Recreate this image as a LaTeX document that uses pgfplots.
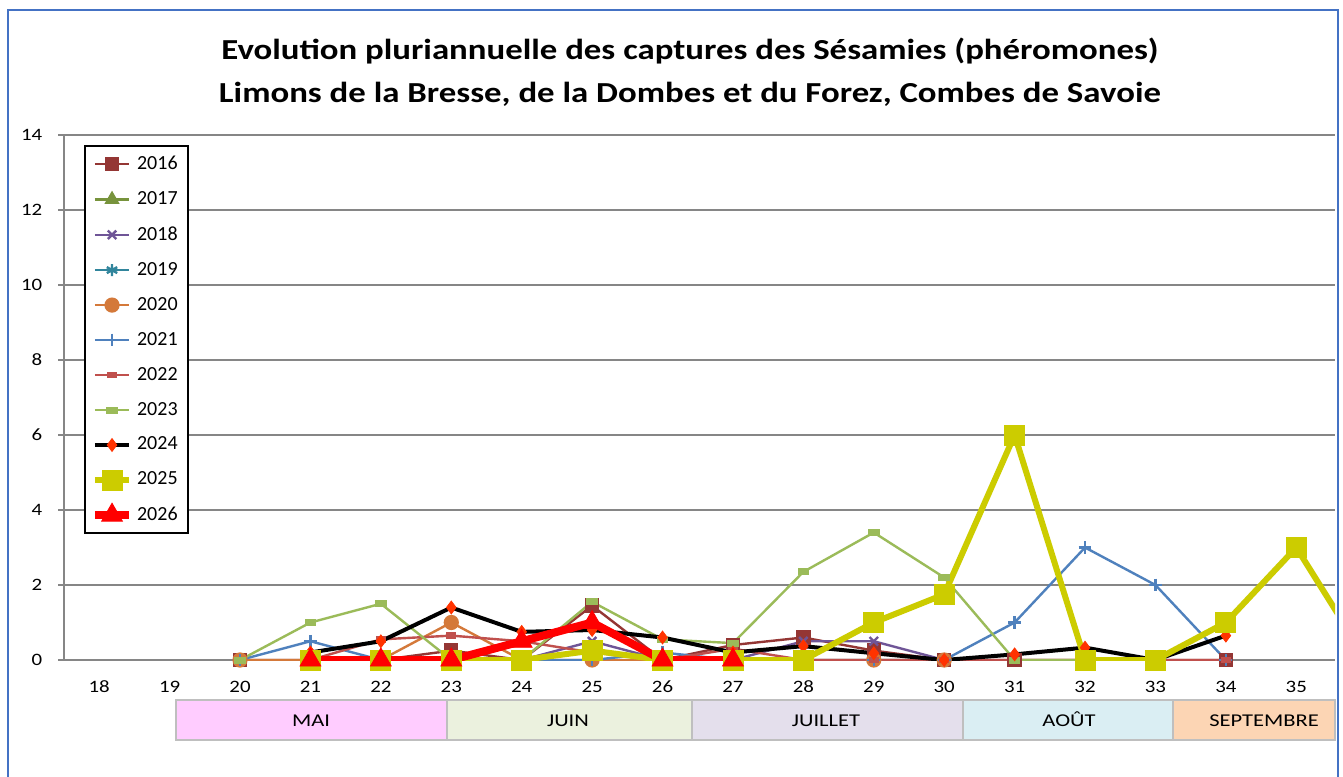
\documentclass[border=0pt]{standalone}
\usepackage{pgfplots}
\pgfplotsset{compat=1.18}
\usepackage{fontspec}
\setmainfont{Carlito}
\definecolor{c2016}{HTML}{943634}
\definecolor{c2017}{HTML}{77933C}
\definecolor{c2018}{HTML}{6F5597}
\definecolor{c2019}{HTML}{31859C}
\definecolor{c2020}{HTML}{D4793A}
\definecolor{c2021}{HTML}{4F81BD}
\definecolor{c2022}{HTML}{C0504D}
\definecolor{c2023}{HTML}{9BBB59}
\definecolor{c2024m}{HTML}{FF3300}
\definecolor{c2025}{HTML}{CCCC00}
\definecolor{c2026}{HTML}{FF0000}
\definecolor{axgray}{HTML}{868686}
\definecolor{framblue}{HTML}{4472C4}
\definecolor{mmai}{HTML}{FFCCFF}
\definecolor{mjuin}{HTML}{EBF1DE}
\definecolor{mjuil}{HTML}{E4DFEC}
\definecolor{maout}{HTML}{DAEEF3}
\definecolor{msept}{HTML}{FCD5B4}
\definecolor{mborder}{HTML}{BFBFBF}
\begin{document}
\begin{tikzpicture}
\useasboundingbox (0pt,0pt) rectangle (671.5pt,388pt);
\fill[white] (0pt,0pt) rectangle (671.5pt,388pt);
\node[align=center, xscale=1.2, font=\bfseries\fontsize{14.5}{21.5}\selectfont] at (345pt,352pt)
  {Evolution pluriannuelle des captures des Sésamies (phéromones)\\Limons de la Bresse, de la Dombes et du Forez, Combes de Savoie};
\begin{axis}[
  at={(32pt,58pt)}, anchor=south west,
  scale only axis, width=635.5pt, height=262.5pt,
  xmin=17.5, xmax=35.55, ymin=0, ymax=14,
  axis lines=left, axis line style={-, draw=axgray, line width=0.8pt},
  xtick={18,...,35}, major x tick style={draw=none},
  extra x ticks={18.5,19.5,...,35.5}, extra x tick labels={},
  extra x tick style={major tick length=3.5pt, tick style={draw=axgray, line width=0.6pt}, grid=none},
  ytick={0,2,...,14},
  ymajorgrids, grid style={draw=axgray, line width=0.8pt},
  tick align=outside, major tick length=3pt,
  ytick style={draw=axgray, line width=0.6pt},
  tick label style={font=\fontsize{8.7}{10}\selectfont, xscale=1.2},
  /pgf/number format/assume math mode=true,
  xticklabel style={yshift=-4pt},
  yticklabel style={xshift=-3pt},
  legend cell align=left,
  legend style={at={(0.0157,0.981)}, anchor=north west, draw=black, line width=1pt,
    font=\fontsize{10}{11}\selectfont, row sep=5.5pt, inner sep=3pt},
]
% 2016
\addplot[color=c2016, line width=1.2pt, mark=square*, mark size=3pt, mark options={solid, fill=c2016}] coordinates {
(20,0)(21,0)(22,0)(23,0.25)(24,0)(25,1.45)(26,0)(27,0.4)(28,0.6)(29,0.25)(30,0)(31,0)(32,0)(33,0)(34,0)};
\addlegendentry{2016}
\addlegendimage{color=c2017, line width=1.2pt, mark=triangle*, mark size=3.2pt, mark options={solid, fill=c2017}}
\addlegendentry{2017}
% 2018
\addplot[color=c2018, line width=1.2pt, mark=x, mark size=3pt, mark options={solid}] coordinates {
(21,0)(22,0)(23,0)(24,0)(25,0.5)(26,0)(27,0)(28,0.5)(29,0.5)(30,0)};
\addlegendentry{2018}
\addlegendimage{color=c2019, line width=1.2pt, mark=asterisk, mark size=3pt, mark options={solid}}
\addlegendentry{2019}
% 2020
\addplot[color=c2020, line width=1.2pt, mark=*, mark size=3.2pt, mark options={solid, fill=c2020}] coordinates {
(20,0)(21,0)(22,0)(23,1)(24,0)(25,0)(26,0)(27,0)(28,0)(29,0)(30,0)};
\addlegendentry{2020}
% 2021
\addplot[color=c2021, line width=1.2pt, mark=+, mark size=3.2pt, mark options={solid}] coordinates {
(20,0)(21,0.5)(22,0)(23,0)(24,0)(25,0)(26,0.2)(27,0)(28,0)(29,0)(30,0)(31,1)(32,3)(33,2)(34,0)};
\addlegendentry{2021}
% 2022
\addplot[color=c2022, line width=1.2pt, mark=square*, mark size=2pt, mark options={solid, fill=c2022, yscale=0.5}] coordinates {
(21,0)(22,0.55)(23,0.65)(24,0.5)(25,0.2)(26,0)(27,0.3)(28,0)(29,0)(30,0)(31,0)(32,0)(33,0)(34,0)};
\addlegendentry{2022}
% 2023
\addplot[color=c2023, line width=1.2pt, mark=square*, mark size=2.3pt, mark options={solid, fill=c2023, yscale=0.5}] coordinates {
(20,0)(21,1)(22,1.5)(23,0)(24,0)(25,1.55)(26,0.55)(27,0.45)(28,2.35)(29,3.4)(30,2.2)(31,0)(32,0)(33,0)};
\addlegendentry{2023}
% 2024
\addplot[color=black, line width=2pt, mark=diamond*, mark size=3.2pt, mark options={solid, draw=c2024m, fill=c2024m, line width=0.4pt}] coordinates {
(21,0.2)(22,0.5)(23,1.4)(24,0.75)(25,0.8)(26,0.6)(27,0.2)(28,0.37)(29,0.18)(30,0)(31,0.15)(32,0.33)(33,0)(34,0.65)};
\addlegendentry{2024}
% 2025
\addplot[color=c2025, line width=3pt, mark=square*, mark size=5pt, mark options={solid, fill=c2025, line width=0.4pt}] coordinates {
(21,0)(22,0)(23,0)(24,0)(25,0.25)(26,0)(27,0)(28,0)(29,1)(30,1.75)(31,6)(32,0)(33,0)(34,1)(35,3)(36,0)};
\addlegendentry{2025}
% 2026
\addplot[color=c2026, line width=4pt, mark=triangle*, mark size=6pt, mark options={solid, fill=c2026, line width=0.4pt}] coordinates {
(21,0)(22,0)(23,0)(24,0.5)(25,1)(26,0)(27,0)};
\addlegendentry{2026}
\end{axis}
% month bands
\begin{scope}[draw=mborder, line width=0.8pt]
\filldraw[fill=mmai] (88pt,18pt) rectangle (223.5pt,38pt);
\filldraw[fill=mjuin] (223.5pt,18pt) rectangle (346pt,38pt);
\filldraw[fill=mjuil] (346pt,18pt) rectangle (481.5pt,38pt);
\filldraw[fill=maout] (481.5pt,18pt) rectangle (586.5pt,38pt);
\filldraw[fill=msept] (586.5pt,18pt) rectangle (667.5pt,38pt);
\end{scope}
\begin{scope}[every node/.style={font=\fontsize{9}{10}\selectfont, xscale=1.25, anchor=base}]
\node at (155.5pt,24.8pt) {MAI};
\node at (284pt,24.8pt) {JUIN};
\node at (413pt,24.8pt) {JUILLET};
\node at (534.5pt,24.8pt) {AOÛT};
\node at (632pt,24.8pt) {SEPTEMBRE};
\end{scope}
\draw[framblue, line width=1pt] (4pt,-5pt) rectangle (669pt,383pt);
\end{tikzpicture}
\end{document}
